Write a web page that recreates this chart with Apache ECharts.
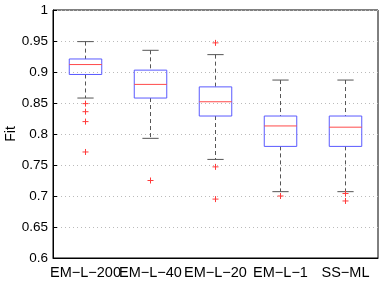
<!DOCTYPE html>
<html><head><meta charset="utf-8">
<script src="https://cdn.jsdelivr.net/npm/echarts@6/dist/echarts.min.js"></script>
<style>html,body{margin:0;padding:0;background:#fff}#c{width:382px;height:287px}</style>
</head><body><div id="c"></div>
<script>
const categories = ['EM\u2212L\u2212200','EM\u2212L\u221240','EM\u2212L\u221220','EM\u2212L\u22121','SS\u2212ML'];
// [lower whisker, Q1, median, Q3, upper whisker]
const boxStats = [
  [0.858, 0.896, 0.912, 0.921, 0.949],
  [0.793, 0.858, 0.880, 0.903, 0.935],
  [0.759, 0.829, 0.852, 0.876, 0.928],
  [0.707, 0.780, 0.813, 0.829, 0.887],
  [0.707, 0.780, 0.811, 0.829, 0.887]
];
// [category index, value]
const outliers = [
  [0,0.849],[0,0.836],[0,0.820],[0,0.771],
  [1,0.725],
  [2,0.947],[2,0.747],[2,0.695],
  [3,0.700],
  [4,0.704],[4,0.692]
];
const yTicks = {min:0.6, max:1, interval:0.05};

const chart = echarts.init(document.getElementById('c'));
const font = 'Liberation Sans, Arial, sans-serif';
chart.setOption({
  animation:false,
  grid:{left:53,right:4,top:10,bottom:29,show:true,borderColor:'#000',borderWidth:1,backgroundColor:'transparent',containLabel:false,outerBoundsMode:'none'},
  xAxis:{type:'category',data:categories,boundaryGap:true,
    axisLine:{lineStyle:{color:'#000'}},axisTick:{show:false},
    axisLabel:{color:'#000',fontSize:14.5,fontFamily:font,margin:7,interval:0,hideOverlap:false},
    splitLine:{show:false}},
  yAxis:{type:'value',min:yTicks.min,max:yTicks.max,interval:yTicks.interval,
    name:'Fit',nameLocation:'middle',nameGap:35,nameMoveOverlap:false,nameTextStyle:{color:'#000',fontSize:14,fontFamily:font},
    axisLine:{show:true,lineStyle:{color:'#000'}},
    axisTick:{show:true,inside:true,length:4,lineStyle:{color:'#000'}},
    axisLabel:{color:'#000',fontSize:13.5,fontFamily:font,margin:5},
    splitLine:{show:true,lineStyle:{color:'#bbb',type:[1,3],width:1}}},
  series:[
    {type:'custom',data:boxStats.map((d,i)=>[i].concat(d)),
     renderItem:function(params,api){
       const i=api.value(0);
       const w=api.size([1,0])[0]*0.5;
       const cap=w*0.5;
       const lo=api.coord([i,api.value(1)]), q1=api.coord([i,api.value(2)]),
             md=api.coord([i,api.value(3)]), q3=api.coord([i,api.value(4)]),
             hi=api.coord([i,api.value(5)]);
       const x=lo[0];
       const dash={stroke:'#555',lineWidth:1,lineDash:[4,3]};
       return {type:'group',children:[
         {type:'line',shape:{x1:x,y1:hi[1],x2:x,y2:q3[1]},style:dash},
         {type:'line',shape:{x1:x,y1:q1[1],x2:x,y2:lo[1]},style:dash},
         {type:'line',shape:{x1:x-cap/2,y1:hi[1],x2:x+cap/2,y2:hi[1]},style:{stroke:'#555',lineWidth:1}},
         {type:'line',shape:{x1:x-cap/2,y1:lo[1],x2:x+cap/2,y2:lo[1]},style:{stroke:'#555',lineWidth:1}},
         {type:'rect',shape:{x:x-w/2,y:q3[1],width:w,height:q1[1]-q3[1]},style:{fill:'none',stroke:'#5a5aff',lineWidth:1}},
         {type:'line',shape:{x1:x-w/2,y1:md[1],x2:x+w/2,y2:md[1]},style:{stroke:'#ff4a4a',lineWidth:1}}
       ]};
     }},
    {type:'custom',data:outliers,
     renderItem:function(params,api){
       const p=api.coord([api.value(0),api.value(1)]);
       const s=3;
       const st={stroke:'#ff3b3b',lineWidth:1};
       return {type:'group',children:[
         {type:'line',shape:{x1:p[0]-s,y1:p[1],x2:p[0]+s,y2:p[1]},style:st},
         {type:'line',shape:{x1:p[0],y1:p[1]-s,x2:p[0],y2:p[1]+s},style:st}
       ]};
     }}
  ]
});
</script></body></html>
